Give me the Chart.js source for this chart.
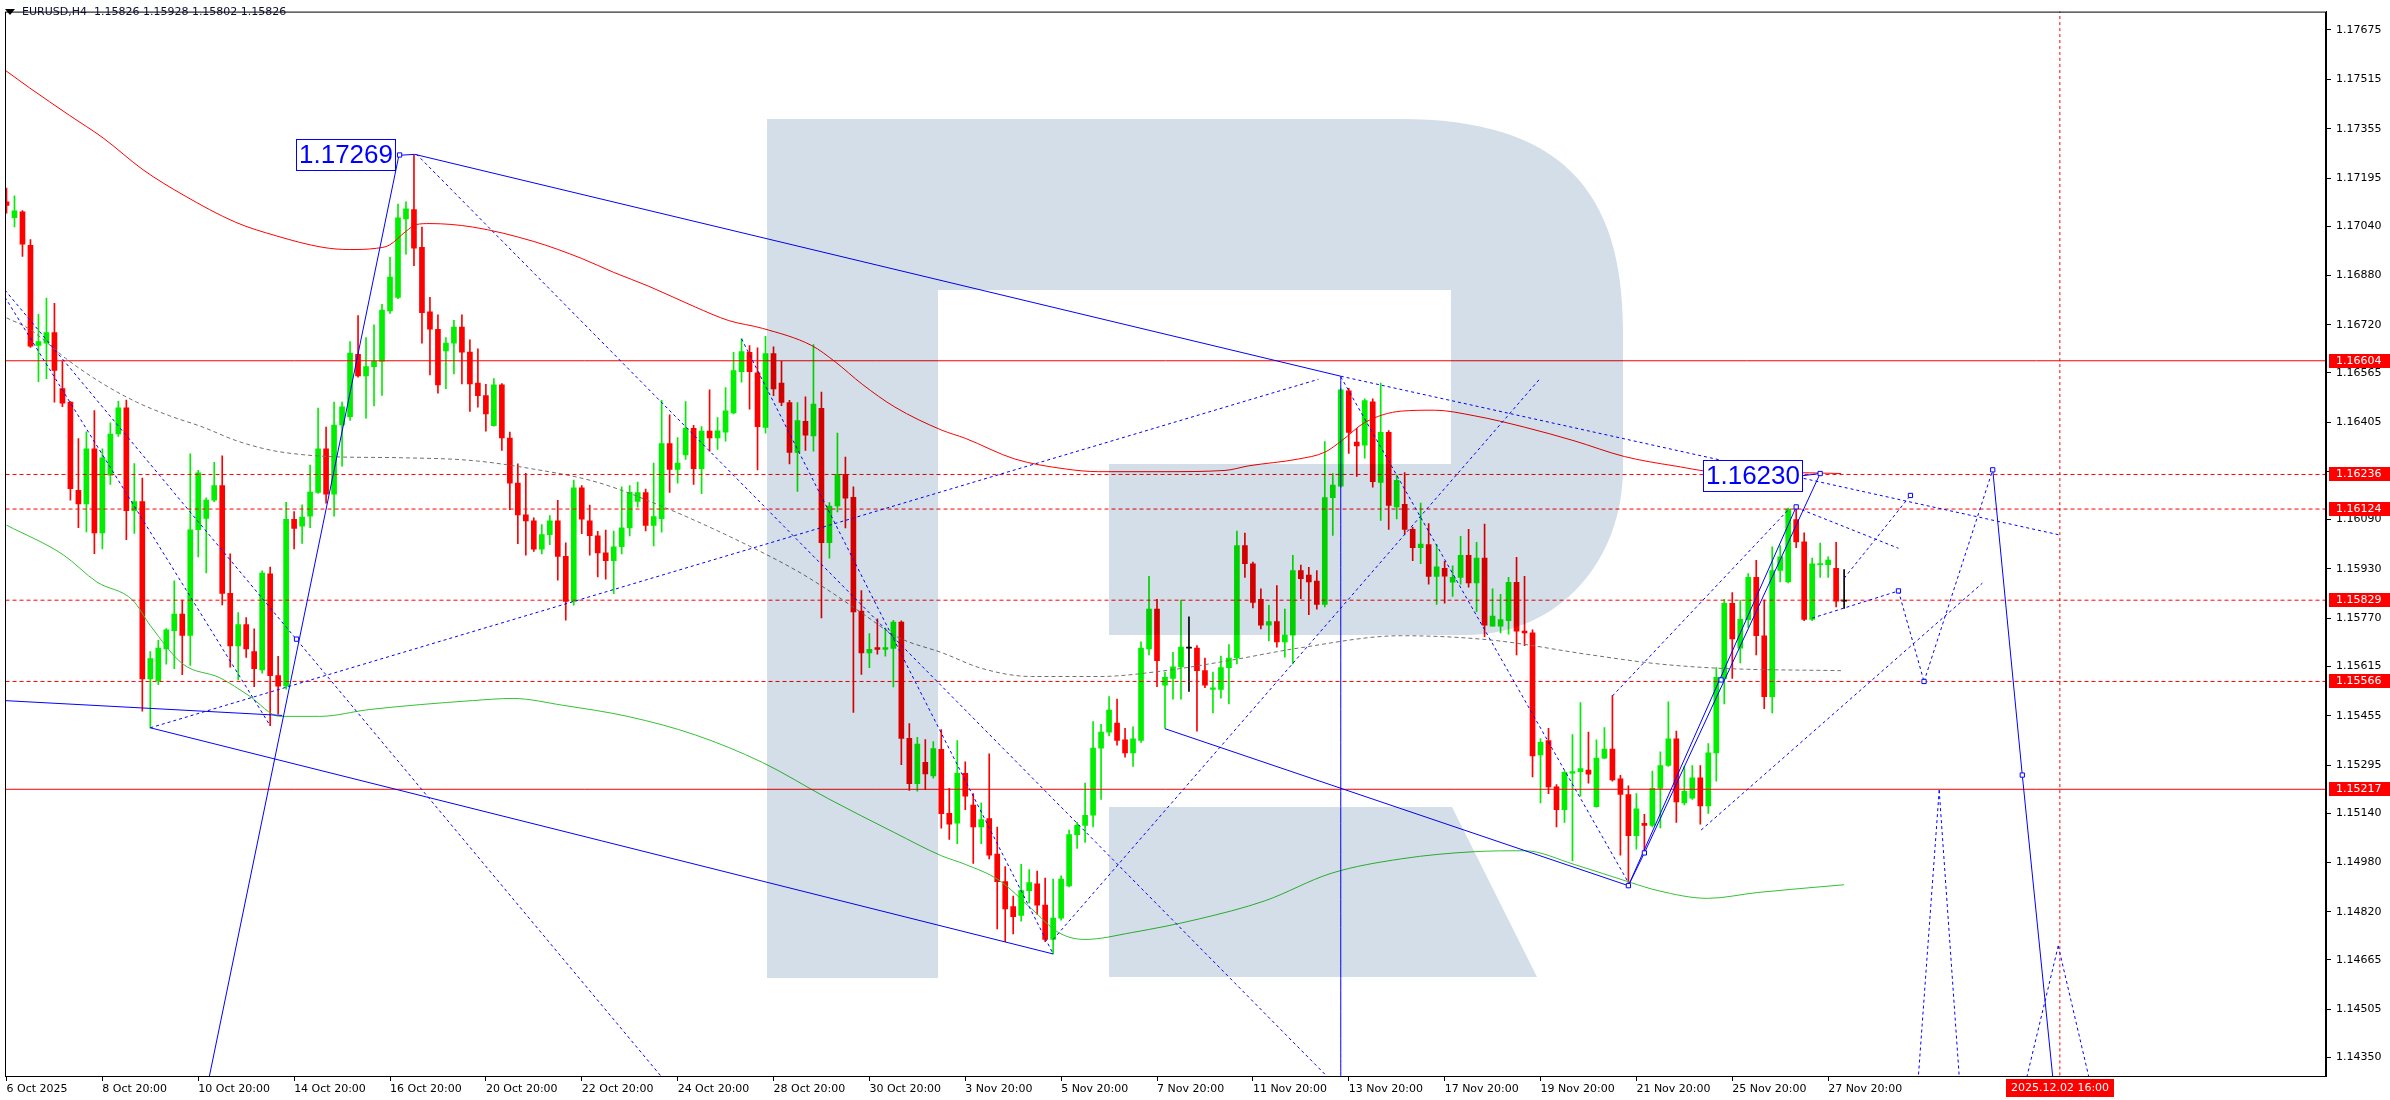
<!DOCTYPE html>
<html>
<head>
<meta charset="utf-8">
<title>EURUSD,H4</title>
<script src="https://cdn.jsdelivr.net/npm/chart.js@4.4.1/dist/chart.umd.min.js"></script>
<style>
  body { margin: 0; background: #fff; }
  #wrap { width: 2390px; height: 1100px; }
</style>
</head>
<body>
<div id="wrap"><canvas id="chart" width="2390" height="1100"></canvas></div>
<script>
// EURUSD H4 candles, bar 0 = 6 Oct 20:00
const opens = [1.17118,1.17067,1.17086,1.16978,1.16654,1.16661,1.16695,1.16514,1.16470,1.16185,1.16141,1.16319,1.16047,1.16234,1.16367,1.16452,1.16119,1.16148,1.15574,1.15568,1.15671,1.15730,1.15784,1.15715,1.16057,1.16094,1.16153,1.16200,1.15851,1.15681,1.15750,1.15663,1.15603,1.15914,1.15585,1.15551,1.16091,1.16069,1.16101,1.16178,1.16319,1.16172,1.16396,1.16423,1.16625,1.16555,1.16585,1.16602,1.16765,1.16809,1.17063,1.17093,1.16971,1.16762,1.16706,1.16636,1.16661,1.16713,1.16632,1.16532,1.16491,1.16394,1.16526,1.16354,1.16208,1.16105,1.16086,1.15994,1.16041,1.16086,1.15971,1.15825,1.16193,1.16086,1.16037,1.15982,1.15957,1.16002,1.16063,1.16149,1.16177,1.16071,1.16093,1.16336,1.16252,1.16299,1.16385,1.16255,1.16376,1.16354,1.16373,1.16435,1.16569,1.16631,1.16565,1.16388,1.16627,1.16532,1.16469,1.16307,1.16408,1.16361,1.16450,1.16015,1.16134,1.16236,1.16162,1.15794,1.15658,1.15676,1.15670,1.15673,1.15758,1.15382,1.15235,1.15304,1.15260,1.15346,1.15139,1.15107,1.15269,1.15166,1.15095,1.15122,1.15007,1.14918,1.14837,1.14809,1.14889,1.14911,1.14842,1.14731,1.14800,1.14904,1.15070,1.15100,1.15133,1.15350,1.15402,1.15431,1.15377,1.15335,1.15375,1.15671,1.15800,1.15554,1.15576,1.15613,1.15674,1.15674,1.15601,1.15540,1.15540,1.15611,1.15642,1.16006,1.15947,1.15832,1.15748,1.15760,1.15694,1.15716,1.15925,1.15910,1.15891,1.15815,1.16161,1.16198,1.16507,1.16341,1.16331,1.16471,1.16210,1.16372,1.16131,1.16139,1.16058,1.15999,1.16009,1.15906,1.15932,1.15887,1.15903,1.15974,1.15885,1.15965,1.15745,1.15745,1.15763,1.15887,1.15729,1.15723,1.15328,1.15375,1.15225,1.15151,1.15269,1.15274,1.15279,1.15161,1.15318,1.15347,1.15251,1.15200,1.15067,1.15107,1.15100,1.15220,1.15294,1.15380,1.15173,1.15188,1.15254,1.15163,1.15335,1.15576,1.15819,1.15674,1.15766,1.15903,1.15714,1.15517,1.15925,1.15888,1.16090,1.16018,1.15767,1.15944,1.15944,1.15932,1.15826];
const highs = [1.17163,1.17138,1.17090,1.16996,1.16754,1.16807,1.16790,1.16602,1.16472,1.16352,1.16374,1.16443,1.16319,1.16403,1.16473,1.16477,1.16271,1.16224,1.15663,1.15699,1.15737,1.15892,1.15829,1.16303,1.16249,1.16160,1.16275,1.16296,1.15979,1.15789,1.15773,1.15736,1.15924,1.15936,1.15647,1.16146,1.16116,1.16138,1.16266,1.16451,1.16389,1.16470,1.16470,1.16666,1.16750,1.16679,1.16720,1.16787,1.16939,1.17111,1.17118,1.17269,1.17037,1.16809,1.16753,1.16679,1.16735,1.16753,1.16672,1.16643,1.16528,1.16546,1.16530,1.16373,1.16270,1.16240,1.16096,1.16074,1.16103,1.16152,1.16015,1.16218,1.16200,1.16137,1.16052,1.16056,1.16053,1.16196,1.16200,1.16211,1.16189,1.16273,1.16476,1.16429,1.16355,1.16472,1.16395,1.16391,1.16510,1.16420,1.16517,1.16631,1.16675,1.16653,1.16646,1.16683,1.16649,1.16602,1.16476,1.16469,1.16487,1.16656,1.16503,1.16145,1.16370,1.16292,1.16196,1.15860,1.15721,1.15769,1.15739,1.15764,1.15762,1.15430,1.15385,1.15378,1.15371,1.15410,1.15220,1.15375,1.15306,1.15203,1.15173,1.15332,1.15095,1.14967,1.14871,1.14974,1.14957,1.14952,1.14930,1.14926,1.14937,1.15085,1.15110,1.15237,1.15436,1.15427,1.15517,1.15509,1.15414,1.15419,1.15694,1.15906,1.15832,1.15596,1.15660,1.15829,1.15775,1.15682,1.15642,1.15596,1.15648,1.15685,1.16053,1.16046,1.15952,1.15866,1.15812,1.15876,1.15800,1.15974,1.15943,1.15935,1.15925,1.16342,1.16239,1.16515,1.16515,1.16385,1.16481,1.16481,1.16532,1.16378,1.16235,1.16242,1.16065,1.16143,1.16077,1.16009,1.15955,1.15940,1.16036,1.16058,1.16016,1.16075,1.15866,1.15848,1.15903,1.15968,1.15906,1.15733,1.15380,1.15414,1.15232,1.15276,1.15394,1.15498,1.15402,1.15377,1.15417,1.15520,1.15262,1.15228,1.15203,1.15136,1.15276,1.15338,1.15500,1.15405,1.15291,1.15294,1.15294,1.15365,1.15611,1.15832,1.15854,1.15829,1.15915,1.15958,1.15829,1.16002,1.16006,1.16127,1.16131,1.16047,1.15965,1.16014,1.15969,1.16016,1.15928];
const lows = [1.17082,1.17037,1.16942,1.16647,1.16536,1.16546,1.16470,1.16455,1.16153,1.16064,1.16050,1.15980,1.15995,1.16204,1.16359,1.16025,1.16045,1.15470,1.15416,1.15556,1.15622,1.15607,1.15588,1.15618,1.15969,1.15917,1.16148,1.15814,1.15612,1.15571,1.15644,1.15549,1.15593,1.15423,1.15460,1.15541,1.15995,1.16013,1.16064,1.16175,1.16143,1.16101,1.16263,1.16411,1.16551,1.16418,1.16458,1.16492,1.16757,1.16805,1.16949,1.16912,1.16661,1.16558,1.16499,1.16514,1.16561,1.16529,1.16440,1.16454,1.16376,1.16392,1.16314,1.16122,1.16012,1.15975,1.15987,1.15979,1.16009,1.15894,1.15764,1.15813,1.16044,1.15975,1.15904,1.15897,1.15850,1.15979,1.16037,1.16130,1.16053,1.16005,1.16049,1.16178,1.16208,1.16285,1.16204,1.16174,1.16311,1.16317,1.16344,1.16432,1.16535,1.16447,1.16251,1.16370,1.16491,1.16459,1.16270,1.16181,1.16314,1.16311,1.15772,1.15965,1.16115,1.16063,1.15466,1.15589,1.15611,1.15654,1.15648,1.15548,1.15297,1.15213,1.15211,1.15216,1.15253,1.15091,1.15055,1.15041,1.15151,1.14977,1.15041,1.14992,1.14765,1.14724,1.14749,1.14790,1.14849,1.14812,1.14724,1.14684,1.14793,1.14901,1.15026,1.15045,1.15095,1.15184,1.15390,1.15360,1.15321,1.15291,1.15369,1.15652,1.15549,1.15414,1.15509,1.15509,1.15534,1.15405,1.15546,1.15464,1.15512,1.15493,1.15623,1.15903,1.15804,1.15736,1.15697,1.15677,1.15645,1.15623,1.15834,1.15782,1.15800,1.15807,1.16039,1.16195,1.16304,1.16230,1.16289,1.16195,1.16087,1.16058,1.16092,1.16043,1.15957,1.15947,1.15881,1.15815,1.15819,1.15841,1.15881,1.15871,1.15792,1.15711,1.15745,1.15723,1.15719,1.15652,1.15682,1.15257,1.15173,1.15203,1.15095,1.15110,1.14986,1.15195,1.15237,1.15159,1.15316,1.15243,1.15004,1.14915,1.15023,1.15016,1.15095,1.15092,1.15291,1.15110,1.15166,1.15184,1.15104,1.15139,1.15243,1.15493,1.15576,1.15626,1.15741,1.15652,1.15478,1.15464,1.15888,1.15885,1.15999,1.15763,1.15763,1.15903,1.15903,1.15807,1.15802];
const closes = [1.17107,1.17089,1.16981,1.16651,1.16666,1.16695,1.16573,1.16467,1.16190,1.16141,1.16319,1.16047,1.16290,1.16367,1.16452,1.16119,1.16148,1.15574,1.15640,1.15674,1.15733,1.15784,1.15715,1.16057,1.16241,1.16153,1.16200,1.15851,1.15681,1.15750,1.15671,1.15607,1.15917,1.15585,1.15551,1.16091,1.16061,1.16098,1.16179,1.16319,1.16172,1.16396,1.16455,1.16629,1.16555,1.16585,1.16602,1.16768,1.16875,1.17067,1.17096,1.16968,1.16760,1.16706,1.16526,1.16661,1.16713,1.16632,1.16529,1.16491,1.16432,1.16526,1.16354,1.16208,1.16105,1.16086,1.15994,1.16041,1.16086,1.15971,1.15825,1.16193,1.16091,1.16038,1.15982,1.15957,1.16002,1.16063,1.16178,1.16177,1.16071,1.16100,1.16336,1.16252,1.16273,1.16385,1.16255,1.16376,1.16354,1.16377,1.16442,1.16572,1.16634,1.16569,1.16391,1.16627,1.16513,1.16469,1.16307,1.16410,1.16363,1.16464,1.16015,1.16134,1.16236,1.16159,1.15791,1.15658,1.15670,1.15670,1.15676,1.15758,1.15382,1.15235,1.15363,1.15267,1.15349,1.15138,1.15104,1.15269,1.15195,1.15095,1.15119,1.15004,1.14918,1.14830,1.14805,1.14889,1.14915,1.14842,1.14731,1.14800,1.14926,1.15070,1.15100,1.15133,1.15350,1.15402,1.15473,1.15375,1.15335,1.15380,1.15674,1.15800,1.15633,1.15579,1.15613,1.15677,1.15674,1.15601,1.15554,1.15545,1.15611,1.15642,1.16006,1.15947,1.15822,1.15748,1.15760,1.15694,1.15716,1.15925,1.15899,1.15888,1.15815,1.16161,1.16202,1.16510,1.16372,1.16328,1.16475,1.16213,1.16372,1.16136,1.16217,1.16058,1.15999,1.16011,1.15906,1.15937,1.15907,1.15903,1.15974,1.15885,1.15965,1.15748,1.15778,1.15766,1.15887,1.15729,1.15723,1.15325,1.15369,1.15225,1.15151,1.15272,1.15274,1.15284,1.15266,1.15318,1.15347,1.15247,1.15200,1.15067,1.15154,1.15100,1.15220,1.15294,1.15380,1.15176,1.15210,1.15254,1.15163,1.15335,1.15579,1.15819,1.15704,1.15767,1.15903,1.15714,1.15517,1.15925,1.15969,1.16124,1.16018,1.15767,1.15947,1.15947,1.15959,1.15826,1.15826];

// moving averages: [bar, price]
const maSlow = [[-0.2,1.17545],[2.9,1.17487],[7.9,1.17398],[12.1,1.17325],[17.1,1.17222],[22.1,1.17141],[28.7,1.17052],[33.8,1.17008],[39.6,1.16971],[42.9,1.16964],[46.3,1.16968],[47.9,1.16978],[50,1.17023],[51.3,1.17045],[53,1.17048],[58.3,1.17037],[66,1.16990],[72,1.16935],[76,1.16890],[80.4,1.16845],[86.2,1.16778],[90.4,1.16734],[94.6,1.16709],[100.8,1.16653],[103.7,1.16601],[107.1,1.16528],[111.2,1.16454],[117,1.16380],[120,1.16353],[126.2,1.16286],[132.5,1.16254],[136.7,1.16245],[145,1.16245],[152.5,1.16249],[155.5,1.16264],[161.7,1.16286],[165,1.16308],[167.1,1.16345],[170,1.16404],[174.6,1.16441],[178.7,1.16444],[183.7,1.16426],[190,1.16389],[196.2,1.16345],[202.5,1.16294],[208.7,1.16264],[215,1.16242],[223.3,1.16242],[229.6,1.16239]];
const maMid = [[0,1.16743],[2.9,1.16706],[7.9,1.16602],[12.1,1.16529],[16.3,1.16470],[20.4,1.16426],[24.6,1.16389],[28.8,1.16345],[33,1.16315],[37.1,1.16300],[41.3,1.16293],[49.6,1.16290],[58.3,1.16281],[65.6,1.16255],[73.9,1.16211],[82.3,1.16130],[90.6,1.16034],[99,1.15923],[103.1,1.15857],[107.3,1.15783],[111.5,1.15710],[117.2,1.15658],[122.1,1.15608],[128.3,1.15582],[136.7,1.15582],[145,1.15601],[153.3,1.15635],[161.7,1.15674],[174.6,1.15714],[185.8,1.15700],[198.3,1.15652],[206.7,1.15623],[215,1.15608],[229.6,1.15601]];
const maFast = [[0,1.16072],[7.1,1.15976],[11.3,1.15888],[15.8,1.15829],[18,1.15747],[22.1,1.15622],[26.7,1.15578],[30.4,1.15519],[34.2,1.15453],[39.2,1.15453],[45.4,1.15475],[58.3,1.15504],[63.4,1.15511],[69.6,1.15489],[77.9,1.15452],[86.2,1.15393],[94.6,1.15304],[102.9,1.15186],[111.2,1.15076],[117,1.15002],[120,1.14974],[124.2,1.14923],[128.3,1.14830],[131.7,1.14753],[135,1.14731],[140.8,1.14753],[149.2,1.14797],[157.5,1.14856],[165.8,1.14945],[174.6,1.14992],[183.7,1.15015],[190,1.15018],[196.2,1.14974],[203.3,1.14915],[206.7,1.14889],[212.9,1.14864],[219.2,1.14883],[230,1.14908]];

// horizontal levels
const levelsSolid = [1.16604, 1.15217];
const levelsDashed = [1.16236, 1.16124, 1.15829, 1.15566];

// trend lines: [bar1, price1, bar2, price2]
const solidLines = [
  [-0.2,1.15504, 34.5,1.15456],
  [18,1.15416, 131,1.14684],
  [25.4,1.14289, 49.1,1.17267],
  [49.1,1.17269, 51.1,1.17272],
  [51.1,1.17272, 167,1.16554],
  [167,1.16554, 167,1.14289],
  [145,1.15413, 203,1.14905],
  [203,1.14905, 224,1.16131],
  [203,1.14905, 205,1.15011],
  [205,1.15011, 227,1.16239],
  [224.8,1.16232, 227,1.16239],
  [248.6,1.16251, 252.3,1.15263],
  [252.3,1.15263, 256.1,1.14289]
];
const dottedLines = [
  [-0.2,1.16810, 33,1.15423],
  [-0.2,1.16833, 81.9,1.14289],
  [18,1.15416, 164.2,1.16544],
  [51.3,1.17273, 165,1.14295],
  [92,1.16675, 131,1.14684],
  [131,1.14731, 192,1.16548],
  [167,1.16554, 257,1.16040],
  [167,1.16552, 203,1.14915],
  [201,1.15519, 223.1,1.16124],
  [212.1,1.15085, 247.3,1.15884],
  [224,1.16129, 236.8,1.15997],
  [226,1.15771, 236.8,1.15859],
  [230,1.15900, 238.3,1.16168],
  [236.8,1.15859, 240,1.15566],
  [240,1.15566, 248.6,1.16251],
  [241.9,1.15214, 239.3,1.14289],
  [241.9,1.15214, 244.4,1.14289],
  [256.8,1.14710, 252.9,1.14289],
  [256.8,1.14710, 260.6,1.14289]
];
const markers = [[49.2,1.17270],[36.3,1.15703],[203,1.14905],[205,1.15011],[214.6,1.15571],[224,1.16131],[227,1.16239],[236.8,1.15859],[238.3,1.16168],[240,1.15566],[248.6,1.16251],[252.3,1.15263]];

// axis
const xTickBars = [0,12,24,36,48,60,72,84,96,108,120,132,144,156,168,180,192,204,216,228];
const xTickLabels = ["6 Oct 2025","8 Oct 20:00","10 Oct 20:00","14 Oct 20:00","16 Oct 20:00","20 Oct 20:00","22 Oct 20:00","24 Oct 20:00","28 Oct 20:00","30 Oct 20:00","3 Nov 20:00","5 Nov 20:00","7 Nov 20:00","11 Nov 20:00","13 Nov 20:00","17 Nov 20:00","19 Nov 20:00","21 Nov 20:00","25 Nov 20:00","27 Nov 20:00"];
const yTicks = [1.17675,1.17515,1.17355,1.17195,1.17040,1.16880,1.16720,1.16565,1.16405,1.16245,1.16090,1.15930,1.15770,1.15615,1.15455,1.15295,1.15140,1.14980,1.14820,1.14665,1.14505,1.14350];
const cursorBar = 257;
const cursorLabel = "2025.12.02 16:00";
const priceNotes = [["1.17269", 48.7, 1.17269], ["1.16230", 224.8, 1.16232]];
const header = "EURUSD,H4  1.15826 1.15928 1.15802 1.15826";

const UP = "#00ee00", DOWN = "#ff0000", FLAT = "#000000", BLUE = "#0000ff";
const FONT = "DejaVu Sans";

const bars = opens.map((_, i) => i);
const candleColors = bars.map(i => closes[i] > opens[i] ? UP : (closes[i] < opens[i] ? DOWN : FLAT));

function lineSet(points, color, dash, order) {
    return {
        type: "line",
        data: points.map(p => ({ x: p[0], y: p[1] })),
        borderColor: color,
        borderWidth: 1,
        borderDash: dash,
        pointRadius: 0,
        cubicInterpolationMode: "monotone",
        order: order,
    };
}

const datasets = [];
levelsSolid.forEach(v => datasets.push(lineSet([[-1, v], [300, v]], "#ff0000", [], 5)));
levelsDashed.forEach(v => datasets.push(lineSet([[-1, v], [300, v]], "#ff0000", [4, 3], 5)));
datasets.push(lineSet([[cursorBar, 1.1], [cursorBar, 1.2]], "#ff0000", [3, 3], 5));
datasets.push(lineSet(maSlow, "#ff0000", [], 6));
datasets.push(lineSet(maMid, "#707070", [4, 3], 6));
datasets.push(lineSet(maFast, "#33c233", [], 6));
solidLines.forEach(s => datasets.push(lineSet([[s[0], s[1]], [s[2], s[3]]], BLUE, [], 2)));
dottedLines.forEach(s => datasets.push(lineSet([[s[0], s[1]], [s[2], s[3]]], BLUE, [3, 3], 2)));
datasets.push({
    type: "line",
    data: markers.map(m => ({ x: m[0], y: m[1] })),
    showLine: false,
    pointStyle: "rect",
    pointRadius: 3,
    pointBorderColor: BLUE,
    pointBackgroundColor: "#ffffff",
    pointBorderWidth: 1,
    order: 1,
});

datasets.push({
    type: "bar",
    data: bars.map(i => ({ x: i, y: [lows[i], highs[i]] })),
    backgroundColor: candleColors,
    barThickness: 1,
    grouped: false,
    order: 20,
});
datasets.push({
    type: "bar",
    data: bars.map(i => ({ x: i, y: [opens[i], closes[i]] })),
    backgroundColor: candleColors,
    barThickness: 5,
    minBarLength: 1,
    grouped: false,
    order: 19,
});

// RoboForex style watermark, drawn in multiply mode over the plot
function drawLogo(ctx, area) {
    ctx.save();
    ctx.beginPath();
    ctx.rect(area.left, area.top, area.right - area.left, area.bottom - area.top);
    ctx.clip();
    ctx.globalCompositeOperation = "multiply";
    ctx.fillStyle = "#d3dee9";
    ctx.beginPath();
    ctx.moveTo(767, 119);
    ctx.lineTo(1400, 119);
    ctx.bezierCurveTo(1560, 119, 1623, 190, 1623, 330);
    ctx.lineTo(1623, 468);
    ctx.bezierCurveTo(1623, 560, 1560, 633, 1470, 635);
    ctx.lineTo(1109, 635);
    ctx.lineTo(1109, 464);
    ctx.lineTo(1451, 464);
    ctx.lineTo(1451, 290);
    ctx.lineTo(938, 290);
    ctx.lineTo(938, 978);
    ctx.lineTo(767, 978);
    ctx.closePath();
    ctx.fill();
    ctx.beginPath();
    ctx.moveTo(1109, 807);
    ctx.lineTo(1452, 807);
    ctx.lineTo(1537, 977);
    ctx.lineTo(1109, 977);
    ctx.closePath();
    ctx.fill();
    ctx.restore();
}

const overlay = {
    id: "overlay",
    afterDatasetsDraw(chart) {
        const ctx = chart.ctx;
        const x = chart.scales.x, y = chart.scales.y;
        drawLogo(ctx, chart.chartArea);

        // boxed price notes
        ctx.save();
        ctx.font = "26px 'Liberation Sans'";
        ctx.textBaseline = "middle";
        priceNotes.forEach(([text, bar, price]) => {
            const right = Math.round(x.getPixelForValue(bar));
            const cy = Math.round(y.getPixelForValue(price));
            const w = 100, h = 32;
            ctx.fillStyle = "#ffffff";
            ctx.fillRect(right - w, cy - h / 2, w, h);
            ctx.strokeStyle = BLUE;
            ctx.lineWidth = 1;
            ctx.strokeRect(right - w + 0.5, cy - h / 2 + 0.5, w - 1, h - 1);
            ctx.fillStyle = BLUE;
            ctx.fillText(text, right - w + 3, cy + 1);
        });
        ctx.restore();
    },
    afterDraw(chart) {
        const ctx = chart.ctx;
        const a = chart.chartArea;
        const x = chart.scales.x, y = chart.scales.y;
        ctx.save();
        // frame
        ctx.strokeStyle = "#000";
        ctx.lineWidth = 1;
        ctx.strokeRect(a.left + 0.5, a.top + 0.5, a.right - a.left - 1, a.bottom - a.top);

        // header
        ctx.fillStyle = "#000";
        ctx.beginPath();
        ctx.moveTo(5, 9); ctx.lineTo(15, 9); ctx.lineTo(10, 15); ctx.closePath();
        ctx.fill();
        ctx.font = "11px '" + FONT + "'";
        ctx.textBaseline = "middle";
        ctx.fillStyle = "#0a0a30";
        ctx.fillText(header, 22, 12.5);

        // price tags on the axis
        levelsSolid.concat(levelsDashed).forEach(v => {
            const py = Math.round(y.getPixelForValue(v));
            ctx.fillStyle = "#ff0000";
            ctx.fillRect(a.right + 3, py - 7, 64, 14);
            ctx.fillStyle = "#ffffff";
            ctx.fillText(v.toFixed(5), a.right + 10, py + 0.5);
        });

        // time tag
        const cx = Math.round(x.getPixelForValue(cursorBar));
        ctx.fillStyle = "#ff0000";
        ctx.fillRect(cx - 54, a.bottom + 3, 108, 18);
        ctx.fillStyle = "#ffffff";
        ctx.textAlign = "center";
        ctx.fillText(cursorLabel, cx, a.bottom + 12.5);
        ctx.restore();
    }
};

new Chart(document.getElementById("chart").getContext("2d"), {
    type: "line",
    data: { datasets: datasets },
    options: {
        responsive: false,
        animation: false,
        devicePixelRatio: 1,
        layout: { padding: { left: 2, top: 3, right: 0, bottom: 0 } },
        plugins: { legend: { display: false }, tooltip: { enabled: false } },
        scales: {
            x: {
                type: "linear",
                min: -0.1875,
                max: 290.3125,
                offset: false,
                grid: { display: true, drawOnChartArea: false, drawTicks: true, tickLength: 5, color: "#000", offset: false },
                border: { display: true, color: "#000" },
                afterBuildTicks: scale => { scale.ticks = xTickBars.map(v => ({ value: v })); },
                afterFit: scale => { scale.height = 24; },
                ticks: {
                    autoSkip: false,
                    maxRotation: 0,
                    align: "start",
                    padding: 2,
                    color: "#000",
                    font: { family: FONT, size: 11 },
                    callback: v => xTickLabels[xTickBars.indexOf(v)],
                },
            },
            y: {
                type: "linear",
                position: "right",
                min: 1.14289,
                max: 1.177341,
                beginAtZero: false,
                grid: { display: true, drawOnChartArea: false, drawTicks: true, tickLength: 5, color: "#000" },
                border: { display: true, color: "#000" },
                afterBuildTicks: scale => { scale.ticks = yTicks.map(v => ({ value: v })); },
                afterFit: scale => { scale.width = 64; },
                ticks: {
                    autoSkip: false,
                    padding: 5,
                    color: "#000",
                    font: { family: FONT, size: 11 },
                    callback: v => v.toFixed(5),
                },
            },
        },
    },
    plugins: [overlay],
});
</script>
</body>
</html>
